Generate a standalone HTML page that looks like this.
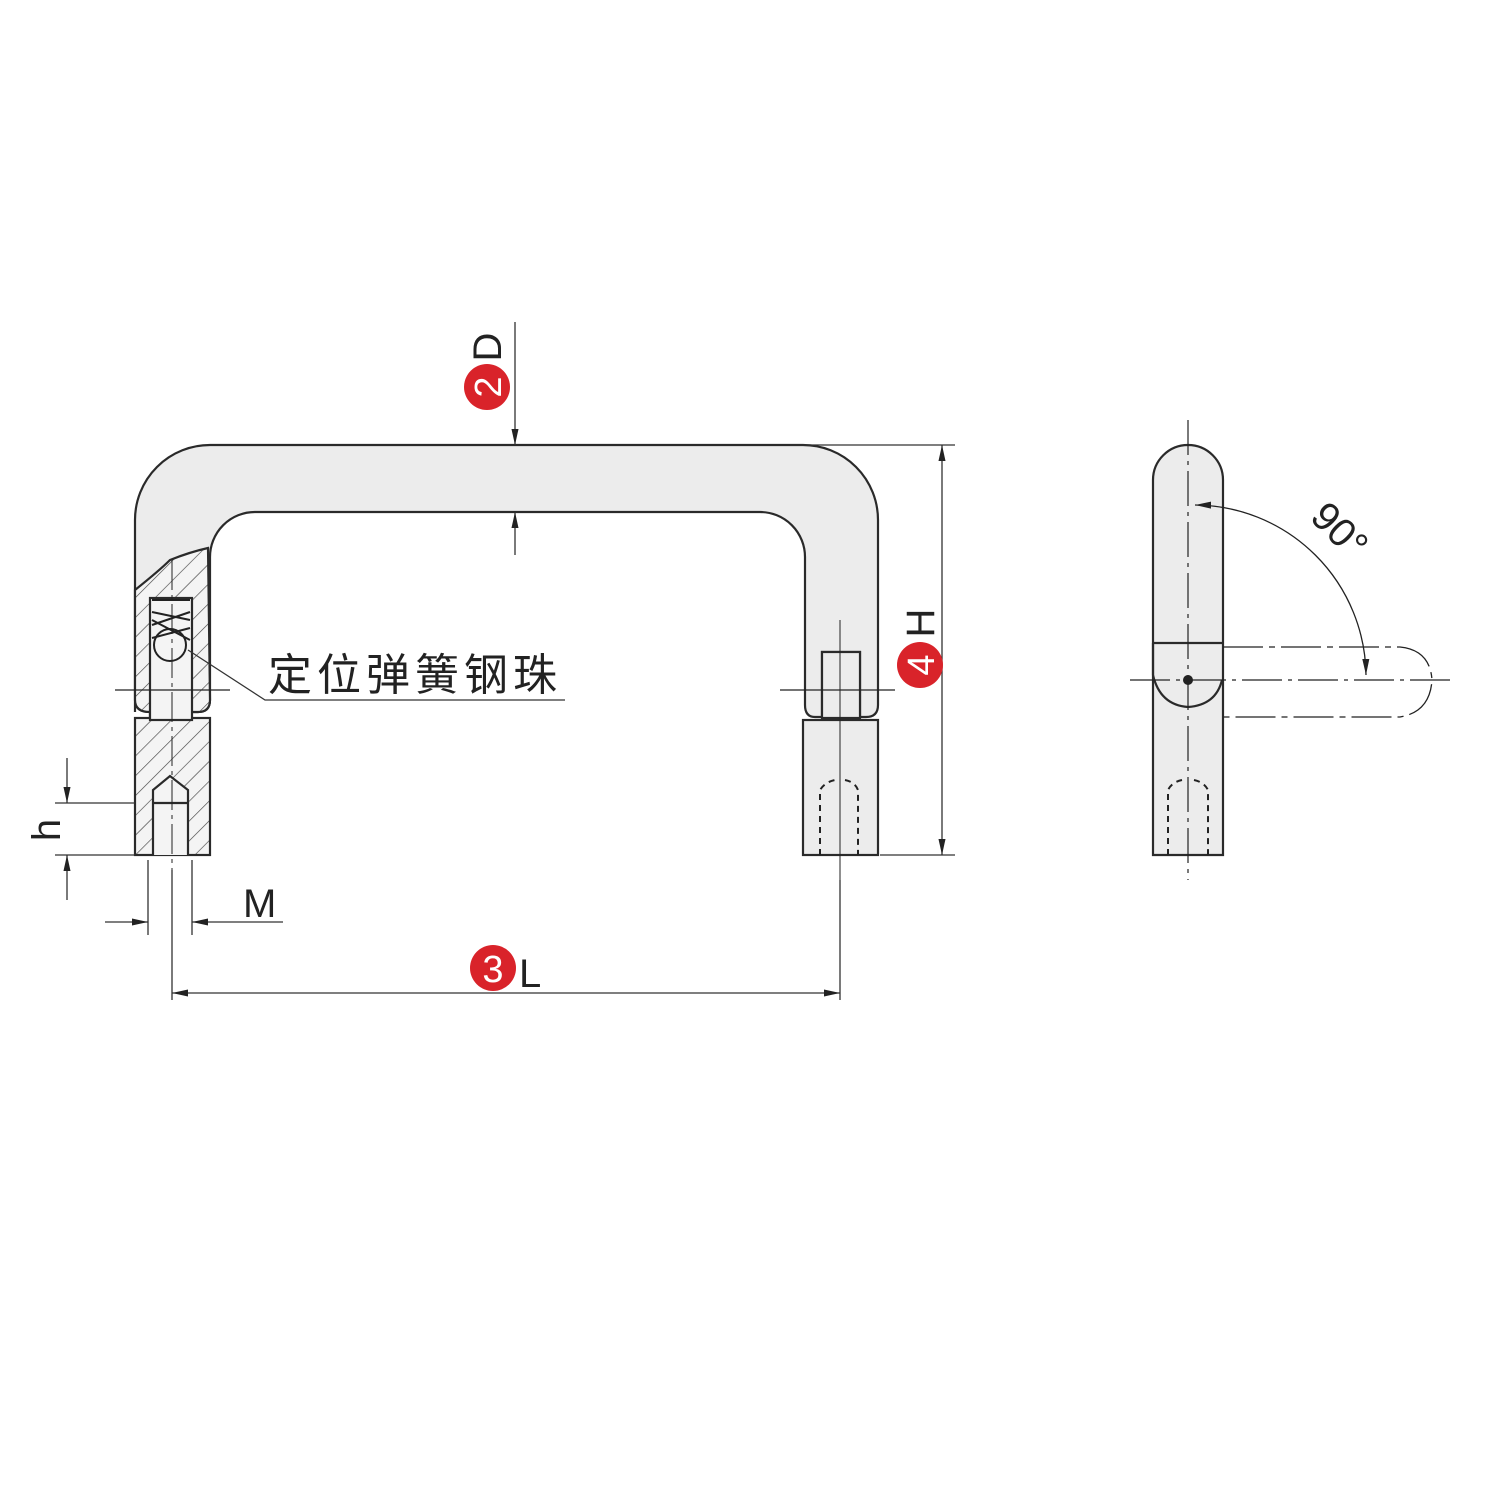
<!DOCTYPE html>
<html><head><meta charset="utf-8"><style>
html,body{margin:0;padding:0;background:#fff;width:1500px;height:1500px;overflow:hidden}
svg{display:block}
text{font-family:"Liberation Sans","Noto Sans CJK SC",sans-serif}
</style></head><body>
<svg width="1500" height="1500" viewBox="0 0 1500 1500" xmlns="http://www.w3.org/2000/svg">
<defs>
<pattern id="hatch" patternUnits="userSpaceOnUse" width="14" height="14" patternTransform="rotate(45)">
<rect width="14" height="14" fill="#f4f4f4"/><line x1="0" y1="0" x2="0" y2="14" stroke="#444" stroke-width="1.3"/>
</pattern>
<marker id="ar" viewBox="0 0 10 10" refX="10" refY="5" markerWidth="16" markerHeight="16" markerUnits="userSpaceOnUse" orient="auto-start-reverse"><path d="M0,2.8 L10,5 L0,7.2 z" fill="#222"/></marker>
</defs>
<g stroke="#2a2a2a" stroke-width="2.2" fill="#ececec">
<path d="M135,712 L135,520 A75,75 0 0 1 210,445 L803,445 A75,75 0 0 1 878,520 L878,705 Q878,717 866,717 L860,717 L860,652 L822,652 L822,717 L815,717 Q805,717 805,705 L805,557 A45,45 0 0 0 760,512 L255,512 A45,45 0 0 0 210,557 L210,700 Q210,712 198,712 L190,712 L190,720 L150,720 L150,712 Q135,712 135,700 Z"/>
<path d="M135,590 Q160,570 170,560 Q190,552 208,548 L210,700 Q210,712 198,712 L150,712 Q135,712 135,700 Z" fill="url(#hatch)"/>
<rect x="135" y="718" width="75" height="137" fill="url(#hatch)"/>
<rect x="150" y="598" width="42" height="122" fill="#f4f4f4"/>
<path d="M153,855 L153,790 L170,776 L188,790 L188,855" fill="#f4f4f4"/>
<line x1="153" y1="803" x2="188" y2="803"/>
<rect x="803" y="720" width="75" height="135"/>
<rect x="822" y="652" width="38" height="66"/>
<path d="M1153,855 L1153,480 A35,35 0 0 1 1223,480 L1223,855 Z"/>
<line x1="1153" y1="643" x2="1223" y2="643"/>
<path d="M1153,643 L1153,675 Q1160,705 1188,707 Q1216,705 1222,680" fill="none"/>
</g>
<g stroke="#222" stroke-width="2" fill="none">
<path d="M152,600 L190,600 M152,612 L190,620 M152,625 L190,612 M152,638 L190,628 M152,620 L190,640"/>
<circle cx="170" cy="645" r="16"/>
<line x1="172" y1="560" x2="172" y2="870" stroke-width="1" stroke-dasharray="30,5,4,5"/>
<line x1="840" y1="620" x2="840" y2="880" stroke-width="1"/>
<line x1="115" y1="690" x2="230" y2="690" stroke-width="1.2"/>
<line x1="780" y1="690" x2="895" y2="690" stroke-width="1.2"/>
<path d="M820,855 L820,790 Q825,782 835,780 M845,780 Q855,782 858,790 L858,855" stroke-dasharray="6,5" stroke-width="2"/>
<path d="M1168,855 L1168,790 Q1172,782 1182,780 M1194,780 Q1204,782 1208,790 L1208,855" stroke-dasharray="6,5" stroke-width="2"/>
<line x1="1188" y1="420" x2="1188" y2="880" stroke-width="1.2" stroke-dasharray="35,6,4,6"/>
<line x1="1130" y1="680" x2="1450" y2="680" stroke-width="1.2" stroke-dasharray="40,6,4,6"/>
<path d="M1223,647 L1400,647 Q1430,650 1432,680 Q1430,712 1400,717 L1223,717" stroke-width="1.3" stroke-dasharray="40,6,6,6"/>
<path d="M1195,505 A172,172 0 0 1 1366,675" stroke-width="1.3" marker-start="url(#ar)" marker-end="url(#ar)"/>
</g>
<circle cx="1188" cy="680" r="5" fill="#222"/>
<polyline points="188,650 265,700 565,700" fill="none" stroke="#333" stroke-width="1.3"/>
<text x="268" y="690" font-size="44" letter-spacing="5" fill="#222">定位弹簧钢珠</text>
<g stroke="#333" stroke-width="1.3" fill="none">
<line x1="515" y1="322" x2="515" y2="445" marker-end="url(#ar)"/>
<line x1="515" y1="555" x2="515" y2="512" marker-end="url(#ar)"/>
<line x1="790" y1="445" x2="955" y2="445"/>
<line x1="880" y1="855" x2="955" y2="855"/>
<line x1="942" y1="445" x2="942" y2="855" marker-start="url(#ar)" marker-end="url(#ar)"/>
<line x1="172" y1="870" x2="172" y2="1000"/>
<line x1="840" y1="880" x2="840" y2="1000"/>
<line x1="172" y1="993" x2="840" y2="993" marker-start="url(#ar)" marker-end="url(#ar)"/>
<line x1="148" y1="860" x2="148" y2="935"/>
<line x1="192" y1="860" x2="192" y2="935"/>
<line x1="105" y1="922" x2="148" y2="922" marker-end="url(#ar)"/>
<line x1="283" y1="922" x2="192" y2="922" marker-end="url(#ar)"/>
<line x1="55" y1="803" x2="135" y2="803"/>
<line x1="55" y1="855" x2="135" y2="855"/>
<line x1="67" y1="758" x2="67" y2="803" marker-end="url(#ar)"/>
<line x1="67" y1="900" x2="67" y2="855" marker-end="url(#ar)"/>
</g>
<text x="243" y="917" font-size="40" fill="#222">M</text>
<text transform="translate(60,830) rotate(-90)" font-size="40" fill="#222" text-anchor="middle">h</text>
<text x="519" y="987" font-size="40" fill="#222">L</text>
<circle cx="493" cy="968" r="23" fill="#d9232a"/>
<text x="493" y="982" font-size="38" fill="#fff" text-anchor="middle">3</text>
<g transform="translate(487,387) rotate(-90)">
<circle cx="0" cy="0" r="23" fill="#d9232a"/>
<text x="0" y="14" font-size="38" fill="#fff" text-anchor="middle">2</text>
<text x="40" y="14" font-size="40" fill="#222" text-anchor="middle">D</text>
</g>
<g transform="translate(920,665) rotate(-90)">
<circle cx="0" cy="0" r="23" fill="#d9232a"/>
<text x="0" y="14" font-size="38" fill="#fff" text-anchor="middle">4</text>
<text x="42" y="14" font-size="40" fill="#222" text-anchor="middle">H</text>
</g>
<text transform="translate(1330,540) rotate(45)" font-size="40" fill="#222" text-anchor="middle">90°</text>
</svg>
</body></html>
